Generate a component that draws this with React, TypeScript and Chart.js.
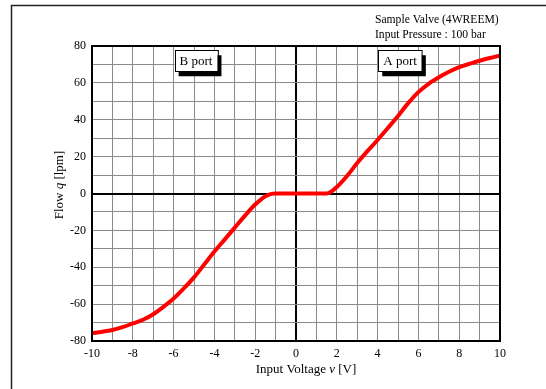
import React, { useEffect, useRef } from "react";
import { Chart, registerables } from "chart.js";

Chart.register(...registerables);

const voltages = [-10, -9.5, -9, -8.5, -8, -7.5, -7, -6.5, -6, -5.5, -5, -4.5, -4, -3.5, -3, -2.5, -2, -1.5, -1.2, -1, 0, 1, 1.5, 1.7, 2, 2.5, 3, 3.5, 4, 4.5, 5, 5.5, 6, 6.5, 7, 7.5, 8, 8.5, 9, 9.5, 10];
const flows = [-75.8, -75, -74, -72.5, -70.5, -68.5, -65.5, -61.5, -57, -51.5, -45.5, -38.5, -31.5, -25, -18.5, -12, -6, -1.5, -0.2, 0, 0, 0, 0, 0.8, 3.5, 9.5, 16.5, 23, 29, 35.5, 42, 49, 55, 59.5, 63, 66, 68.5, 70.3, 72, 73.5, 74.8];

const xTickLabels = [-10, -8, -6, -4, -2, 0, 2, 4, 6, 8, 10];
const yTickLabels = [-80, -60, -40, -20, 0, 20, 40, 60, 80];

const portLabels = ["B port", "A port"];
const portX = [-4.9, 5.1];
const portY = [72, 72];

const noteLines = ["Sample Valve (4WREEM)", "Input Pressure : 100 bar"];

const FONT = "'Liberation Serif', 'Times New Roman', serif";

const decorPlugin = {
  id: "decor",
  afterDraw(chart: any) {
    const { ctx, chartArea, scales } = chart;
    const xs = scales.x;
    const ys = scales.y;
    ctx.save();
    // outer partial frame
    ctx.strokeStyle = "#222";
    ctx.lineWidth = 1.5;
    ctx.beginPath();
    ctx.moveTo(11.5, 389);
    ctx.lineTo(11.5, 5.5);
    ctx.lineTo(546, 5.5);
    ctx.stroke();

    // plot frame
    ctx.strokeStyle = "#000";
    ctx.lineWidth = 2;
    ctx.strokeRect(chartArea.left, chartArea.top, chartArea.right - chartArea.left, chartArea.bottom - chartArea.top);

    // port boxes
    ctx.font = `13px ${FONT}`;
    ctx.textAlign = "center";
    ctx.textBaseline = "middle";
    portLabels.forEach((lab, i) => {
      const cx = xs.getPixelForValue(portX[i]);
      const cy = ys.getPixelForValue(portY[i]);
      const w = ctx.measureText(lab).width + 10;
      const h = 21;
      ctx.fillStyle = "#000";
      ctx.fillRect(cx - w / 2 + 4, cy - h / 2 + 5, w, h);
      ctx.fillStyle = "#fff";
      ctx.fillRect(cx - w / 2, cy - h / 2, w, h);
      ctx.strokeStyle = "#000";
      ctx.lineWidth = 1;
      ctx.strokeRect(Math.round(cx - w / 2) + 0.5, Math.round(cy - h / 2) + 0.5, w, h);
      ctx.fillStyle = "#000";
      ctx.fillText(lab, cx, cy + 0.5);
    });

    // note text
    ctx.font = `11.6px ${FONT}`;
    ctx.textAlign = "left";
    ctx.textBaseline = "middle";
    ctx.fillStyle = "#000";
    noteLines.forEach((t, i) => {
      ctx.fillText(t, 375, 20 + i * 15);
    });

    // axis titles with italic symbols
    const drawParts = (parts: any[], x0: number, y0: number) => {
      let total = 0;
      parts.forEach((p) => {
        ctx.font = `${p.it ? "italic " : ""}13px ${FONT}`;
        total += ctx.measureText(p.t).width;
      });
      let x = x0 - total / 2;
      ctx.textAlign = "left";
      parts.forEach((p) => {
        ctx.font = `${p.it ? "italic " : ""}13px ${FONT}`;
        ctx.fillText(p.t, x, y0);
        x += ctx.measureText(p.t).width;
      });
    };
    const parts1 = [
      { t: "Input Voltage ", it: false },
      { t: "v", it: true },
      { t: " [V]", it: false },
    ];
    drawParts(parts1, (chartArea.left + chartArea.right) / 2 + 10, 370);

    const parts2 = [
      { t: "Flow ", it: false },
      { t: "q", it: true },
      { t: " [lpm]", it: false },
    ];
    ctx.save();
    ctx.translate(60, 185);
    ctx.rotate(-Math.PI / 2);
    drawParts(parts2, 0, 0);
    ctx.restore();

    ctx.restore();
  },
};

export default function App() {
  const ref = useRef<HTMLCanvasElement | null>(null);
  useEffect(() => {
    if (!ref.current) return;
    const data = voltages.map((v, i) => ({ x: v, y: flows[i] }));
    const chart = new Chart(ref.current, {
      type: "line",
      data: {
        datasets: [
          {
            data,
            borderColor: "#ff0000",
            borderWidth: 4,
            pointRadius: 0,
            cubicInterpolationMode: "monotone",
            fill: false,
          },
        ],
      },
      options: {
        animation: false,
        responsive: false,
        maintainAspectRatio: false,
        layout: { padding: { left: 0, right: 46, top: 46, bottom: 0 } },
        plugins: { legend: { display: false }, tooltip: { enabled: false } },
        scales: {
          x: {
            type: "linear",
            min: -10,
            max: 10,
            afterFit: (s: any) => {
              s.height = 48;
            },
            border: { display: false },
            grid: {
              drawTicks: false,
              color: (c: any) => (c.tick && c.tick.value === 0 ? "#000" : "#8a8a8a"),
              lineWidth: (c: any) => (c.tick && c.tick.value === 0 ? 2 : 1),
            },
            ticks: {
              stepSize: 1,
              autoSkip: false,
              maxRotation: 0,
              padding: 6,
              color: "#000",
              font: { family: FONT, size: 12 },
              callback: (v: any) => (xTickLabels.includes(Number(v)) ? String(v) : ""),
            },
          },
          y: {
            type: "linear",
            min: -80,
            max: 80,
            afterFit: (s: any) => {
              s.width = 92;
            },
            border: { display: false },
            grid: {
              drawTicks: false,
              color: (c: any) => (c.tick && c.tick.value === 0 ? "#000" : "#8a8a8a"),
              lineWidth: (c: any) => (c.tick && c.tick.value === 0 ? 2 : 1),
            },
            ticks: {
              stepSize: 10,
              autoSkip: false,
              padding: 6,
              color: "#000",
              font: { family: FONT, size: 12 },
              callback: (v: any) => (yTickLabels.includes(Number(v)) ? String(v) : ""),
            },
          },
        },
      },
      plugins: [decorPlugin],
    } as any);
    return () => chart.destroy();
  }, []);
  return (
    <div style={{ position: "fixed", left: 0, top: 0, width: 546, height: 389, background: "#fff" }}>
      <canvas ref={ref} width={546} height={389} style={{ width: 546, height: 389, display: "block" }} />
    </div>
  );
}
